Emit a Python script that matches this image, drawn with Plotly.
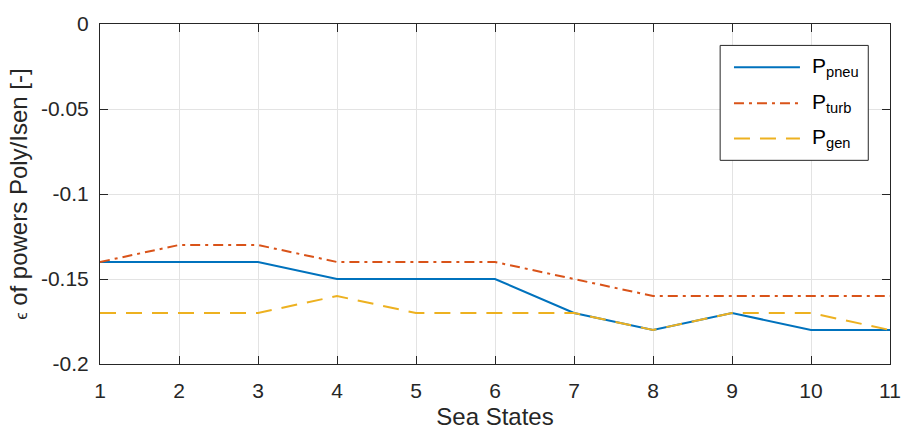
import plotly.graph_objects as go

sea_states = [1, 2, 3, 4, 5, 6, 7, 8, 9, 10, 11]
p_pneu = [-0.14, -0.14, -0.14, -0.15, -0.15, -0.15, -0.17, -0.18, -0.17, -0.18, -0.18]
p_turb = [-0.14, -0.13, -0.13, -0.14, -0.14, -0.14, -0.15, -0.16, -0.16, -0.16, -0.16]
p_gen = [-0.17, -0.17, -0.17, -0.16, -0.17, -0.17, -0.17, -0.18, -0.17, -0.17, -0.18]

series_names = ["P<sub>pneu</sub>", "P<sub>turb</sub>", "P<sub>gen</sub>"]
series_values = [p_pneu, p_turb, p_gen]
series_colors = ["#0072BD", "#D95319", "#EDB120"]
series_dashes = ["solid", "10px,5px,3px,5px", "16px,10px"]

y_ticks = [0, -0.05, -0.1, -0.15, -0.2]
y_tick_text = ["0", "-0.05", "-0.1", "-0.15", "-0.2"]

FONT = "Liberation Sans, Arial, sans-serif"
INK = "#262626"

fig = go.Figure()
for name, vals, col, dash in zip(series_names, series_values, series_colors, series_dashes):
    fig.add_trace(go.Scatter(x=sea_states, y=vals, mode="lines", name=name,
                             showlegend=False,
                             line=dict(color=col, width=2, dash=dash)))

# Boxed legend in the upper right of the axes (paper coordinates)
box_x0, box_x1, box_y0, box_y1 = 0.785, 0.9725, 0.599, 0.937
fig.add_shape(type="rect", xref="paper", yref="paper",
              x0=box_x0, x1=box_x1, y0=box_y0, y1=box_y1,
              line=dict(color=INK, width=1), fillcolor="white", layer="above")
entry_rows = [0.873, 0.767, 0.663]
for name, col, dash, yr in zip(series_names, series_colors, series_dashes, entry_rows):
    fig.add_shape(type="line", xref="paper", yref="paper",
                  x0=0.8025, x1=0.886, y0=yr, y1=yr,
                  line=dict(color=col, width=2, dash=dash), layer="above")
    fig.add_annotation(xref="paper", yref="paper", x=0.8985, y=yr + 0.002,
                       xanchor="left", yanchor="middle", showarrow=False,
                       text=name, font=dict(family=FONT, size=21, color="#000000"))

axis_common = dict(
    showline=True, linecolor=INK, linewidth=1, mirror="allticks",
    ticks="inside", ticklen=8, tickcolor=INK, tickwidth=1,
    showgrid=True, gridcolor="#e3e3e3", gridwidth=1, zeroline=False,
    tickfont=dict(family=FONT, size=21, color=INK),
)

fig.update_layout(
    width=913, height=437,
    margin=dict(l=100, r=13, t=18, b=72),
    paper_bgcolor="white", plot_bgcolor="white",
    showlegend=False,
    xaxis=dict(
        axis_common, range=[1, 11], tickvals=sea_states, ticklabelstandoff=8,
        title=dict(text="Sea States", standoff=6,
                   font=dict(family=FONT, size=24, color=INK)),
    ),
    yaxis=dict(
        axis_common, range=[-0.2, 0], tickvals=y_ticks, ticktext=y_tick_text,
        ticklabelstandoff=6,
        title=dict(text="<span style='font-size:16px'>ϵ</span> of powers Poly/Isen [-]",
                   standoff=6,
                   font=dict(family=FONT, size=24, color=INK)),
    ),
)

fig.write_html("out.html")
